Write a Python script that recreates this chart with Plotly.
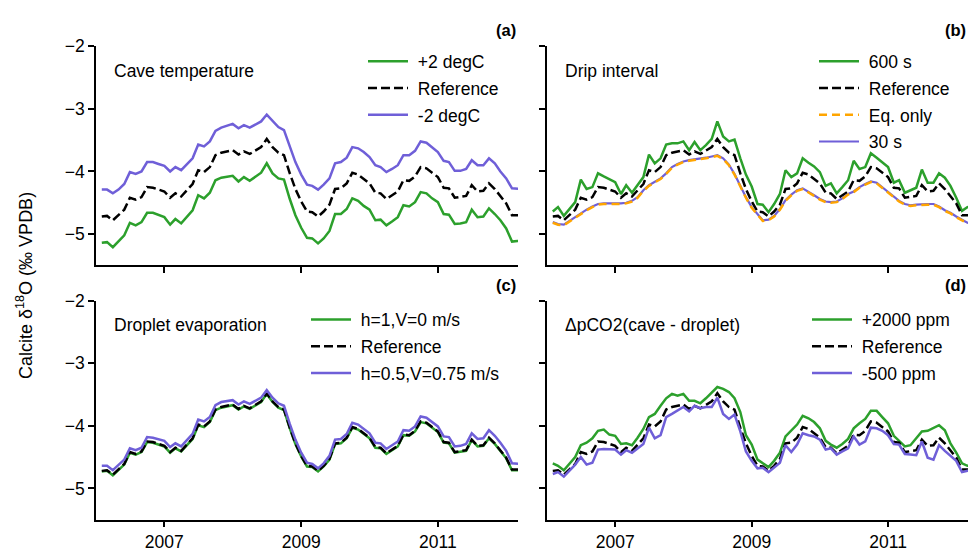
import plotly.graph_objects as go
import pandas as pd

# Monthly time axis (Feb 2006 onward)
dates = pd.date_range("2006-02-01", periods=75, freq="MS")

reference = [-4.72,-4.71,-4.78,-4.70,-4.61,-4.42,-4.45,-4.41,-4.25,-4.26,
             -4.29,-4.32,-4.42,-4.35,-4.40,-4.30,-4.20,-3.98,-4.01,-3.93,
             -3.74,-3.70,-3.68,-3.66,-3.73,-3.68,-3.72,-3.67,-3.61,-3.48,
             -3.61,-3.70,-3.74,-4.03,-4.28,-4.48,-4.64,-4.65,-4.72,-4.64,
             -4.53,-4.28,-4.27,-4.19,-4.02,-4.05,-4.12,-4.19,-4.34,-4.35,
             -4.44,-4.38,-4.32,-4.14,-4.15,-4.08,-3.93,-3.95,-4.02,-4.09,
             -4.26,-4.27,-4.42,-4.41,-4.39,-4.22,-4.32,-4.31,-4.19,-4.28,
             -4.39,-4.51,-4.70,-4.70,-4.70]

temp_plus2 = [-5.14,-5.13,-5.21,-5.12,-5.02,-4.82,-4.86,-4.81,-4.66,-4.66,
              -4.70,-4.73,-4.85,-4.76,-4.83,-4.73,-4.62,-4.38,-4.43,-4.34,
              -4.14,-4.10,-4.09,-4.07,-4.16,-4.09,-4.15,-4.08,-4.02,-3.87,
              -4.03,-4.11,-4.13,-4.44,-4.70,-4.90,-5.06,-5.07,-5.15,-5.07,
              -4.95,-4.68,-4.68,-4.60,-4.43,-4.47,-4.55,-4.61,-4.78,-4.77,
              -4.86,-4.80,-4.73,-4.54,-4.56,-4.49,-4.33,-4.35,-4.43,-4.49,
              -4.68,-4.69,-4.84,-4.83,-4.81,-4.61,-4.73,-4.72,-4.59,-4.68,
              -4.78,-4.91,-5.12,-5.11,-5.11]

temp_minus2 = [-4.29,-4.29,-4.35,-4.29,-4.20,-4.01,-4.04,-4.00,-3.85,-3.85,
               -3.88,-3.91,-4.00,-3.93,-3.98,-3.88,-3.79,-3.57,-3.60,-3.52,
               -3.35,-3.30,-3.27,-3.24,-3.31,-3.26,-3.30,-3.25,-3.20,-3.09,
               -3.19,-3.29,-3.34,-3.61,-3.85,-4.05,-4.21,-4.23,-4.29,-4.21,
               -4.11,-3.87,-3.85,-3.78,-3.61,-3.63,-3.69,-3.77,-3.90,-3.93,
               -4.01,-3.96,-3.90,-3.74,-3.74,-3.67,-3.52,-3.54,-3.61,-3.69,
               -3.83,-3.85,-3.99,-3.99,-3.96,-3.82,-3.90,-3.90,-3.79,-3.87,
               -4.00,-4.11,-4.27,-4.28,-4.28]

drip_600 = [-4.64,-4.57,-4.71,-4.60,-4.49,-4.13,-4.28,-4.25,-4.03,-4.08,
            -4.13,-4.17,-4.36,-4.22,-4.34,-4.21,-4.09,-3.73,-3.87,-3.79,
            -3.57,-3.55,-3.55,-3.52,-3.66,-3.53,-3.66,-3.58,-3.48,-3.20,
            -3.44,-3.52,-3.49,-3.79,-4.05,-4.24,-4.52,-4.53,-4.65,-4.52,
            -4.36,-3.98,-4.09,-4.03,-3.79,-3.86,-3.92,-4.01,-4.23,-4.19,
            -4.35,-4.25,-4.14,-3.83,-3.96,-3.93,-3.71,-3.78,-3.86,-3.93,
            -4.18,-4.14,-4.34,-4.30,-4.26,-3.97,-4.18,-4.18,-4.03,-4.10,
            -4.23,-4.42,-4.63,-4.57,-4.55]

drip_eq = [-4.82,-4.85,-4.86,-4.80,-4.73,-4.67,-4.62,-4.57,-4.53,-4.52,
           -4.52,-4.53,-4.52,-4.51,-4.48,-4.42,-4.31,-4.23,-4.17,-4.12,
           -4.04,-3.94,-3.89,-3.85,-3.83,-3.82,-3.81,-3.79,-3.77,-3.75,
           -3.80,-3.90,-4.05,-4.24,-4.42,-4.58,-4.69,-4.79,-4.78,-4.72,
           -4.61,-4.47,-4.38,-4.31,-4.28,-4.33,-4.39,-4.45,-4.49,-4.50,
           -4.49,-4.44,-4.37,-4.33,-4.26,-4.21,-4.17,-4.19,-4.26,-4.33,
           -4.41,-4.48,-4.53,-4.55,-4.54,-4.53,-4.53,-4.53,-4.57,-4.63,
           -4.67,-4.73,-4.78,-4.83,-4.85]

drip_30 = [-4.81,-4.84,-4.85,-4.79,-4.72,-4.66,-4.61,-4.56,-4.52,-4.51,
           -4.51,-4.52,-4.51,-4.50,-4.47,-4.41,-4.30,-4.22,-4.16,-4.11,
           -4.03,-3.93,-3.88,-3.84,-3.82,-3.81,-3.80,-3.78,-3.76,-3.74,
           -3.79,-3.89,-4.04,-4.23,-4.41,-4.57,-4.68,-4.78,-4.77,-4.71,
           -4.60,-4.46,-4.37,-4.30,-4.27,-4.32,-4.38,-4.44,-4.48,-4.49,
           -4.48,-4.43,-4.36,-4.32,-4.25,-4.20,-4.16,-4.18,-4.25,-4.32,
           -4.40,-4.47,-4.52,-4.54,-4.53,-4.52,-4.52,-4.52,-4.56,-4.62,
           -4.66,-4.72,-4.77,-4.82,-4.84]

evap_h1 = [-4.73,-4.72,-4.79,-4.71,-4.62,-4.43,-4.46,-4.42,-4.26,-4.27,
           -4.30,-4.33,-4.43,-4.36,-4.41,-4.31,-4.21,-3.99,-4.02,-3.94,
           -3.75,-3.71,-3.69,-3.67,-3.74,-3.69,-3.73,-3.68,-3.62,-3.49,
           -3.62,-3.71,-3.75,-4.04,-4.29,-4.49,-4.65,-4.66,-4.73,-4.65,
           -4.54,-4.29,-4.28,-4.20,-4.03,-4.06,-4.13,-4.20,-4.35,-4.36,
           -4.45,-4.39,-4.33,-4.15,-4.16,-4.09,-3.94,-3.96,-4.03,-4.10,
           -4.27,-4.28,-4.43,-4.42,-4.40,-4.23,-4.33,-4.32,-4.20,-4.29,
           -4.40,-4.52,-4.71,-4.71,-4.71]

evap_h05 = [-4.64,-4.64,-4.71,-4.63,-4.54,-4.36,-4.39,-4.35,-4.18,-4.19,
            -4.21,-4.24,-4.34,-4.28,-4.33,-4.23,-4.13,-3.90,-3.93,-3.86,
            -3.67,-3.62,-3.61,-3.59,-3.66,-3.61,-3.65,-3.60,-3.55,-3.43,
            -3.55,-3.64,-3.68,-3.97,-4.22,-4.43,-4.59,-4.61,-4.68,-4.60,
            -4.48,-4.22,-4.21,-4.13,-3.95,-3.98,-4.05,-4.12,-4.27,-4.28,
            -4.37,-4.31,-4.25,-4.07,-4.08,-4.01,-3.85,-3.87,-3.94,-4.01,
            -4.17,-4.18,-4.33,-4.32,-4.29,-4.12,-4.21,-4.20,-4.07,-4.16,
            -4.27,-4.40,-4.60,-4.61,-4.61]

pco2_plus2000 = [-4.60,-4.64,-4.71,-4.60,-4.50,-4.31,-4.27,-4.20,-4.08,-4.06,
                 -4.14,-4.16,-4.29,-4.28,-4.31,-4.19,-4.05,-3.86,-3.81,-3.68,
                 -3.56,-3.49,-3.52,-3.49,-3.60,-3.60,-3.64,-3.56,-3.47,-3.38,
                 -3.41,-3.46,-3.56,-3.78,-4.15,-4.30,-4.54,-4.60,-4.66,-4.56,
                 -4.43,-4.17,-4.08,-3.98,-3.84,-3.88,-3.94,-4.04,-4.24,-4.30,
                 -4.35,-4.29,-4.21,-4.04,-3.96,-3.89,-3.76,-3.76,-3.86,-3.96,
                 -4.16,-4.24,-4.33,-4.31,-4.20,-4.09,-4.08,-4.04,-3.99,-4.07,
                 -4.28,-4.43,-4.60,-4.64,-4.64]

pco2_minus500 = [-4.77,-4.74,-4.81,-4.72,-4.62,-4.50,-4.62,-4.59,-4.38,-4.37,
                 -4.37,-4.38,-4.46,-4.39,-4.43,-4.36,-4.29,-4.03,-4.20,-4.15,
                 -3.86,-3.81,-3.76,-3.70,-3.77,-3.68,-3.72,-3.70,-3.70,-3.55,
                 -3.81,-3.89,-3.82,-4.09,-4.41,-4.56,-4.68,-4.67,-4.74,-4.67,
                 -4.59,-4.31,-4.42,-4.30,-4.12,-4.15,-4.17,-4.22,-4.38,-4.36,
                 -4.46,-4.41,-4.36,-4.17,-4.30,-4.25,-4.03,-4.04,-4.08,-4.15,
                 -4.29,-4.30,-4.45,-4.46,-4.47,-4.25,-4.51,-4.54,-4.31,-4.40,
                 -4.48,-4.56,-4.74,-4.72,-4.72]

y_ticks = [-2, -3, -4, -5]
x_tick_years = ["2007-01-01", "2009-01-01", "2011-01-01"]
x_tick_text = ["2007", "2009", "2011"]

GREEN = "#2ca02c"
PURPLE = "#6f5fd8"
ORANGE = "#ffa500"
BLACK = "#000000"
FONT = "Liberation Sans, Arial, sans-serif"
FS = 17.5
W, H = 969, 556

fig = go.Figure()

def add(y, name, color, axis, legend, dash="solid", width=2.5, rank=None):
    fig.add_trace(go.Scatter(
        x=dates, y=y, mode="lines", name="\u00a0" + name,
        line=dict(color=color, width=width, dash=dash),
        xaxis="x" + axis, yaxis="y" + axis,
        legend=legend, legendgroup=legend + name,
        legendrank=rank if rank is not None else 1000,
        hoverinfo="skip"))

DASH = "9px,4px"
# (a)
add(temp_plus2, "+2 degC", GREEN, "", "legend", rank=1)
add(reference, "Reference", BLACK, "", "legend", dash=DASH, rank=2)
add(temp_minus2, "-2 degC", PURPLE, "", "legend", rank=3)
# (b)
add(drip_600, "600 s", GREEN, "2", "legend2", rank=1)
add(reference, "Reference", BLACK, "2", "legend2", dash=DASH, rank=2)
add(drip_30, "30 s", PURPLE, "2", "legend2", width=2.2, rank=4)
add(drip_eq, "Eq. only", ORANGE, "2", "legend2", dash="8px,5px", rank=3)
# (c)
add(evap_h1, "h=1,V=0 m/s", GREEN, "3", "legend3", rank=1)
add(reference, "Reference", BLACK, "3", "legend3", dash=DASH, rank=2)
add(evap_h05, "h=0.5,V=0.75 m/s", PURPLE, "3", "legend3", rank=3)
# (d)
add(pco2_plus2000, "+2000 ppm", GREEN, "4", "legend4", rank=1)
add(reference, "Reference", BLACK, "4", "legend4", dash=DASH, rank=2)
add(pco2_minus500, "-500 ppm", PURPLE, "4", "legend4", rank=3)

# panel pixel boxes (left, right, top, bottom)
boxes = {
    "": (96, 518, 37, 260),
    "2": (547, 968, 37, 260),
    "3": (96, 518, 296, 519),
    "4": (547, 968, 296, 519),
}

base_axis = dict(showline=True, linecolor="black", linewidth=1.5,
                 ticks="outside", ticklen=6, tickwidth=1.5, tickcolor="black",
                 showgrid=False, zeroline=False,
                 tickfont=dict(family=FONT, size=FS, color="black"))

layout = dict(
    width=W, height=H, margin=dict(l=0, r=0, t=0, b=0),
    paper_bgcolor="white", plot_bgcolor="white",
    font=dict(family=FONT, size=FS, color="black"),
    showlegend=True,
)

for k, (l, r, t, b) in boxes.items():
    xd = [l / W, r / W]
    yd = [1 - b / H, 1 - t / H]
    bottom = k in ("3", "4")
    left = k in ("", "3")
    layout["xaxis" + k] = dict(base_axis, domain=xd, anchor="y" + k, type="date",
                               range=["2006-01-01", "2012-03-04"],
                               tickvals=x_tick_years, ticktext=x_tick_text,
                               showticklabels=bottom)
    layout["yaxis" + k] = dict(base_axis, domain=yd, anchor="x" + k,
                               range=[-5.5, -2], tickvals=y_ticks,
                               showticklabels=left)

def legend_at(xpx, ypx):
    return dict(x=xpx / W, y=1 - ypx / H, xanchor="left", yanchor="top",
                bgcolor="rgba(0,0,0,0)", borderwidth=0,
                font=dict(family=FONT, size=FS, color="black"),
                tracegroupgap=1, itemwidth=40)

layout["legend"] = legend_at(363, 34)
layout["legend2"] = legend_at(814, 34)
layout["legend3"] = legend_at(306, 297)
layout["legend4"] = legend_at(807, 297)

fig.update_layout(**layout)

ann = []
titles = [("Cave temperature", 112, 62), ("Drip interval", 563, 62),
          ("Droplet evaporation", 112, 321), ("ΔpCO2(cave - droplet)", 563, 321)]
for txt, xp, yp in titles:
    ann.append(dict(text=txt, x=xp / W, y=1 - yp / H, xref="paper", yref="paper",
                    xanchor="left", yanchor="middle", showarrow=False,
                    font=dict(family=FONT, size=FS, color="black")))
labels = [("(a)", 518, 20), ("(b)", 968, 20), ("(c)", 518, 280), ("(d)", 968, 280)]
for txt, xp, yp in labels:
    ann.append(dict(text="<b>" + txt + "</b>", x=xp / W, y=1 - yp / H,
                    xref="paper", yref="paper", xanchor="right", yanchor="middle",
                    showarrow=False, font=dict(family=FONT, size=16.5, color="black")))
ann.append(dict(text="Calcite δ<sup>18</sup>O (‰ VPDB)", x=25 / W, y=1 - 281 / H,
                xref="paper", yref="paper", xanchor="center", yanchor="middle",
                textangle=-90, showarrow=False,
                font=dict(family=FONT, size=18, color="black")))
fig.update_layout(annotations=ann)

fig.write_html("out.html")
